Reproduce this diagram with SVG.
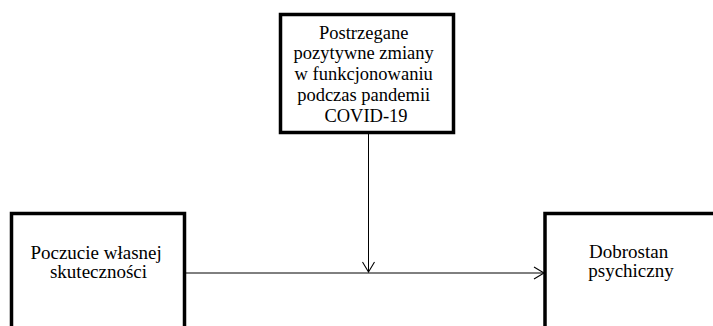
<svg xmlns="http://www.w3.org/2000/svg" width="713" height="326" viewBox="0 0 713 326">
<style>
.box{fill:#fff;stroke:#000;stroke-width:3.5}
.t{font-family:"Liberation Serif","Times New Roman",serif;fill:#000;text-anchor:middle}
.tt{font-size:18.5px}
.ts{font-size:19px}
.c{stroke:#000;stroke-width:1;fill:none}
</style>
<defs>
<marker id="arr" markerWidth="14" markerHeight="14" refX="11" refY="7" orient="auto" markerUnits="userSpaceOnUse">
<path d="M1,1 L11,7 L1,13" fill="none" stroke="#000" stroke-width="1.1"/>
</marker>
</defs>
<rect width="713" height="326" fill="#fff"/>
<g id="connectors">
<line class="c" x1="186" y1="273" x2="544" y2="273" marker-end="url(#arr)"/>
<line class="c" x1="368.5" y1="134" x2="368.5" y2="272" marker-end="url(#arr)"/>
</g>
<g id="node-moderator">
<rect class="box" x="280.5" y="14.5" width="173" height="118"/>
<text class="t tt" x="366">
<tspan x="366" y="38.5">Postrzegane</tspan>
<tspan x="366" y="59.3">pozytywne zmiany</tspan>
<tspan x="366" y="80.1">w funkcjonowaniu</tspan>
<tspan x="366" y="100.9">podczas pandemii</tspan>
<tspan x="366" y="121.7">COVID-19</tspan>
</text>
</g>
<g id="node-predictor">
<rect class="box" x="11.5" y="213.5" width="173" height="130"/>
<text class="t ts">
<tspan x="98.5" y="258.5">Poczucie własnej</tspan>
<tspan x="98.5" y="278">skuteczności</tspan>
</text>
</g>
<g id="node-outcome">
<rect class="box" x="545" y="213.5" width="173" height="130"/>
<text class="t ts">
<tspan x="631" y="257.8">Dobrostan</tspan>
<tspan x="631" y="277.3">psychiczny</tspan>
</text>
</g>
</svg>
